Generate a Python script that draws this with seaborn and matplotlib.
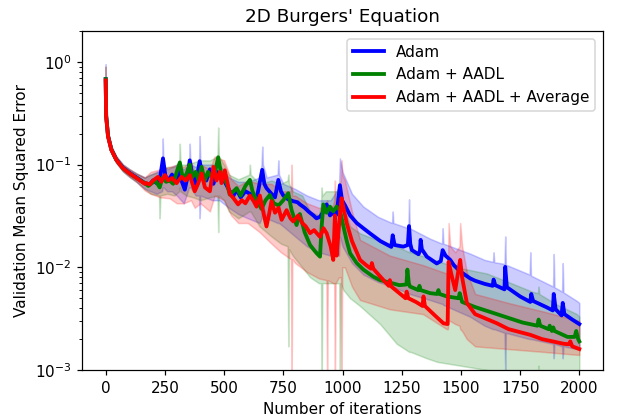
import numpy as np
import matplotlib
matplotlib.use("Agg")
import matplotlib.pyplot as plt
import seaborn as sns

# values (iteration, MSE)
adam_it = [0, 2, 10, 24, 45, 73, 101, 130, 165, 185, 200, 215, 230, 242, 252, 265, 280, 295, 310, 320,
           334, 345, 355, 365, 380, 397, 410, 425, 440, 455, 470, 485, 500, 512, 524, 540, 553, 570, 590, 609,
           625, 640, 661, 670, 679, 700, 715, 729, 740, 750, 770, 792, 810, 820, 840, 856, 877, 890, 905, 920,
           933, 947, 960, 975, 989, 998, 1011, 1032, 1060, 1088, 1116, 1160, 1206, 1212, 1220, 1257, 1276, 1281, 1286, 1293,
           1321, 1327, 1330, 1335, 1356, 1398, 1415, 1423, 1435, 1455, 1470, 1497, 1539, 1560, 1600, 1634, 1638, 1645, 1684, 1687,
           1694, 1750, 1793, 1797, 1805, 1860, 1888, 1892, 1900, 1925, 1930, 1937, 1970, 2000]
adam_mse = [0.68, 0.30, 0.19, 0.14, 0.112, 0.093, 0.083, 0.075, 0.066, 0.064, 0.07, 0.066, 0.075, 0.115, 0.078, 0.07, 0.08, 0.068, 0.085, 0.07,
            0.057, 0.075, 0.11, 0.08, 0.065, 0.108, 0.075, 0.07, 0.09, 0.065, 0.085, 0.075, 0.07, 0.062, 0.055, 0.05, 0.057, 0.048, 0.055, 0.052,
            0.045, 0.05, 0.089, 0.065, 0.059, 0.052, 0.048, 0.071, 0.055, 0.05, 0.046, 0.044, 0.043, 0.041, 0.038, 0.035, 0.032, 0.03, 0.031, 0.035,
            0.041, 0.032, 0.034, 0.0325, 0.063, 0.045, 0.04, 0.032, 0.027, 0.024, 0.0214, 0.018, 0.0158, 0.0205, 0.0165, 0.0159, 0.0165, 0.0252, 0.017, 0.0147,
            0.0134, 0.0145, 0.0185, 0.015, 0.0127, 0.0109, 0.0115, 0.0147, 0.013, 0.0118, 0.0105, 0.0091, 0.0078, 0.0074, 0.0069, 0.0066, 0.0076, 0.0067, 0.0061, 0.0101,
            0.0064, 0.0052, 0.0046, 0.0055, 0.0047, 0.0041, 0.0038, 0.0055, 0.0039, 0.0034, 0.0045, 0.0035, 0.0031, 0.0028]
adam_band_it = [0, 2, 10, 24, 45, 73, 101, 130, 165, 190, 215, 238, 241, 244, 260, 280, 300, 330, 352, 355,
                358, 380, 394, 397, 400, 420, 450, 480, 520, 560, 600, 650, 658, 661, 664, 680, 726, 729, 732, 750,
                800, 850, 900, 950, 985, 989, 1000, 1040, 1088, 1150, 1209, 1212, 1215, 1278, 1281, 1284, 1370, 1420, 1423, 1426,
                1539, 1600, 1635, 1638, 1641, 1684, 1687, 1690, 1790, 1793, 1796, 1889, 1892, 1895, 1927, 1930, 1933, 1990, 2000]
adam_lo = [0.6, 0.27, 0.175, 0.13, 0.104, 0.086, 0.076, 0.068, 0.058, 0.055, 0.052, 0.055, 0.06, 0.06, 0.055, 0.055, 0.05, 0.042, 0.06, 0.06,
           0.06, 0.05, 0.05, 0.03, 0.05, 0.048, 0.045, 0.045, 0.038, 0.033, 0.03, 0.027, 0.03, 0.035, 0.04, 0.03, 0.027, 0.027, 0.027, 0.025,
           0.02, 0.016, 0.014, 0.013, 0.013, 0.02, 0.016, 0.011, 0.0085, 0.0072, 0.0065, 0.0065, 0.0064, 0.0056, 0.0056, 0.0055, 0.0048, 0.0044, 0.0044, 0.0043,
           0.0033, 0.0027, 0.0025, 0.0025, 0.0025, 0.0023, 0.001, 0.0023, 0.002, 0.002, 0.002, 0.0018, 0.0013, 0.0018, 0.0017, 0.0013, 0.0017, 0.0016, 0.0016]
adam_hi = [0.95, 0.33, 0.205, 0.15, 0.12, 0.1, 0.09, 0.082, 0.075, 0.08, 0.085, 0.09, 0.18, 0.1, 0.09, 0.095, 0.1, 0.09, 0.1, 0.16,
           0.1, 0.095, 0.1, 0.19, 0.1, 0.1, 0.1, 0.1, 0.075, 0.068, 0.068, 0.075, 0.1, 0.15, 0.1, 0.075, 0.08, 0.11, 0.08, 0.065,
           0.058, 0.05, 0.045, 0.045, 0.06, 0.115, 0.085, 0.052, 0.039, 0.031, 0.027, 0.035, 0.027, 0.024, 0.046, 0.024, 0.019, 0.017, 0.024, 0.017,
           0.0136, 0.0118, 0.0113, 0.014, 0.0112, 0.0108, 0.02, 0.0106, 0.0085, 0.014, 0.0083, 0.0065, 0.0135, 0.0064, 0.0058, 0.011, 0.0057, 0.0047, 0.0045]

aadl_it = [0, 2, 10, 24, 45, 73, 101, 130, 165, 180, 195, 210, 228, 240, 255, 270, 285, 300, 313, 325,
           340, 355, 365, 380, 392, 405, 418, 432, 447, 460, 475, 488, 500, 512, 524, 540, 553, 570, 590, 609,
           620, 630, 645, 658, 675, 693, 710, 730, 750, 771, 785, 806, 820, 840, 863, 877, 891, 905, 912, 919,
           933, 947, 961, 975, 989, 1004, 1018, 1032, 1060, 1088, 1130, 1159, 1200, 1240, 1270, 1274, 1280, 1285, 1320, 1325,
           1330, 1370, 1400, 1405, 1410, 1441, 1490, 1495, 1505, 1560, 1652, 1760, 1823, 1828, 1835, 1870, 1875, 1884, 1890, 1895,
           1950, 1980, 1987, 1995, 2000]
aadl_mse = [0.68, 0.30, 0.19, 0.14, 0.111, 0.092, 0.082, 0.074, 0.066, 0.062, 0.066, 0.07, 0.06, 0.075, 0.068, 0.07, 0.065, 0.085, 0.105, 0.075,
            0.08, 0.1, 0.075, 0.085, 0.07, 0.095, 0.07, 0.085, 0.075, 0.08, 0.118, 0.08, 0.072, 0.065, 0.051, 0.055, 0.059, 0.05, 0.062, 0.071,
            0.055, 0.0487, 0.042, 0.037, 0.045, 0.0506, 0.042, 0.04, 0.045, 0.0527, 0.036, 0.0258, 0.033, 0.022, 0.0165, 0.015, 0.0137, 0.0127, 0.025, 0.041,
            0.034, 0.039, 0.035, 0.039, 0.036, 0.025, 0.018, 0.0137, 0.011, 0.0095, 0.0081, 0.0075, 0.0071, 0.0067, 0.0068, 0.0095, 0.007, 0.0065, 0.006, 0.0066,
            0.006, 0.0056, 0.0055, 0.006, 0.0055, 0.0052, 0.005, 0.0056, 0.0046, 0.0041, 0.0035, 0.0029, 0.0027, 0.0031, 0.0027, 0.0025, 0.0027, 0.0024, 0.0026, 0.0024,
            0.0021, 0.0021, 0.0024, 0.002, 0.0019]
aadl_band_it = [0, 2, 10, 24, 45, 73, 101, 130, 165, 190, 225, 228, 231, 260, 290, 310, 313, 316, 340, 370,
                400, 440, 472, 475, 478, 500, 520, 560, 606, 609, 612, 650, 700, 740, 768, 771, 774, 790, 830, 863,
                900, 909, 912, 915, 930, 960, 986, 989, 992, 1004, 1032, 1074, 1159, 1229, 1282, 1285, 1288, 1356, 1400, 1500,
                1610, 1700, 1800, 1825, 1828, 1831, 1900, 1990, 2000]
aadl_lo = [0.6, 0.27, 0.175, 0.13, 0.104, 0.086, 0.076, 0.068, 0.058, 0.052, 0.05, 0.03, 0.05, 0.052, 0.05, 0.055, 0.06, 0.055, 0.05, 0.048,
           0.045, 0.048, 0.05, 0.022, 0.05, 0.045, 0.035, 0.03, 0.035, 0.035, 0.035, 0.025, 0.02, 0.017, 0.016, 0.0017, 0.015, 0.013, 0.01, 0.008,
           0.007, 0.007, 0.0006, 0.007, 0.007, 0.007, 0.007, 0.0006, 0.007, 0.006, 0.005, 0.0042, 0.0028, 0.0018, 0.0015, 0.0015, 0.0015, 0.0013, 0.0012, 0.0011,
           0.001, 0.00095, 0.0009, 0.0009, 0.0011, 0.0009, 0.0009, 0.0009, 0.0009]
aadl_hi = [0.9, 0.33, 0.205, 0.15, 0.12, 0.1, 0.09, 0.082, 0.075, 0.08, 0.085, 0.09, 0.085, 0.095, 0.095, 0.1, 0.16, 0.1, 0.1, 0.105,
           0.11, 0.11, 0.12, 0.23, 0.12, 0.1, 0.08, 0.072, 0.08, 0.1, 0.08, 0.065, 0.07, 0.065, 0.07, 0.08, 0.065, 0.055, 0.05, 0.035,
           0.032, 0.04, 0.06, 0.05, 0.055, 0.055, 0.055, 0.06, 0.05, 0.04, 0.025, 0.0214, 0.018, 0.016, 0.014, 0.02, 0.014, 0.0125, 0.0115, 0.0098,
           0.0087, 0.0072, 0.0058, 0.0056, 0.0065, 0.0055, 0.0044, 0.0035, 0.0033]

avg_it = [0, 2, 10, 24, 45, 73, 101, 130, 165, 172, 186, 200, 221, 235, 250, 264, 280, 299, 320, 338,
          355, 376, 390, 405, 419, 440, 455, 468, 482, 489, 503, 524, 540, 559, 575, 590, 609, 625, 637, 651,
          665, 679, 690, 700, 715, 730, 743, 764, 780, 792, 813, 830, 845, 863, 880, 905, 920, 933, 950, 961,
          968, 975, 985, 996, 1004, 1018, 1040, 1074, 1100, 1120, 1124, 1130, 1160, 1195, 1200, 1206, 1240, 1266, 1271, 1278,
          1310, 1338, 1342, 1348, 1390, 1426, 1444, 1448, 1460, 1476, 1490, 1497, 1505, 1525, 1560, 1652, 1701, 1793, 1842, 1934,
          1955, 1962, 1970, 2000]
avg_mse = [0.66, 0.29, 0.187, 0.139, 0.111, 0.092, 0.082, 0.074, 0.065, 0.066, 0.064, 0.07, 0.076, 0.068, 0.079, 0.07, 0.074, 0.066, 0.076, 0.07,
           0.079, 0.055, 0.065, 0.082, 0.06, 0.055, 0.095, 0.07, 0.085, 0.066, 0.088, 0.052, 0.047, 0.041, 0.045, 0.042, 0.05, 0.044, 0.039, 0.05,
           0.035, 0.025, 0.033, 0.044, 0.034, 0.038, 0.029, 0.036, 0.03, 0.028, 0.032, 0.027, 0.025, 0.0215, 0.023, 0.0198, 0.024, 0.0215, 0.016, 0.0118,
           0.032, 0.013, 0.025, 0.047, 0.038, 0.0268, 0.018, 0.0118, 0.0105, 0.0097, 0.011, 0.0097, 0.0081, 0.0066, 0.0075, 0.0065, 0.0056, 0.005, 0.0058, 0.005,
           0.0046, 0.0042, 0.0052, 0.0042, 0.0034, 0.00285, 0.0028, 0.0113, 0.0085, 0.006, 0.0095, 0.0118, 0.008, 0.0045, 0.0035, 0.00285, 0.0025, 0.0022, 0.002, 0.0018,
           0.00178, 0.0019, 0.0017, 0.0016]
avg_band_it = [0, 2, 10, 24, 45, 73, 101, 130, 165, 190, 230, 270, 300, 330, 360, 376, 400, 440, 460, 500,
               530, 560, 600, 650, 700, 740, 782, 785, 788, 800, 850, 900, 932, 935, 938, 960, 965, 968, 971, 985,
               993, 996, 999, 1010, 1040, 1074, 1200, 1340, 1440, 1445, 1448, 1455, 1476, 1494, 1497, 1505, 1525, 1560, 1700, 1850,
               2000]
avg_lo = [0.6, 0.27, 0.175, 0.13, 0.104, 0.086, 0.076, 0.068, 0.056, 0.052, 0.048, 0.047, 0.042, 0.042, 0.045, 0.038, 0.042, 0.035, 0.05, 0.045,
          0.032, 0.027, 0.027, 0.022, 0.017, 0.014, 0.012, 0.0006, 0.012, 0.011, 0.009, 0.0078, 0.0075, 0.0006, 0.0075, 0.007, 0.007, 0.0006, 0.007, 0.008,
          0.008, 0.0006, 0.01, 0.01, 0.0065, 0.0048, 0.0039, 0.0035, 0.0025, 0.0025, 0.003, 0.003, 0.0028, 0.0027, 0.0025, 0.0024, 0.002, 0.0017, 0.0016, 0.0015,
          0.0014]
avg_hi = [0.9, 0.33, 0.205, 0.15, 0.12, 0.1, 0.09, 0.082, 0.075, 0.085, 0.09, 0.095, 0.1, 0.095, 0.11, 0.08, 0.1, 0.09, 0.12, 0.11,
          0.072, 0.062, 0.07, 0.065, 0.065, 0.055, 0.055, 0.1, 0.05, 0.05, 0.042, 0.038, 0.038, 0.045, 0.038, 0.04, 0.045, 0.07, 0.04, 0.06,
          0.07, 0.11, 0.08, 0.07, 0.035, 0.0185, 0.013, 0.0105, 0.0087, 0.009, 0.027, 0.016, 0.014, 0.016, 0.027, 0.016, 0.009, 0.0055, 0.0045, 0.0037,
          0.003]

names = ["Adam", "Adam + AADL", "Adam + AADL + Average"]
colours = ["blue", "green", "red"]

dpi = 110
fig = plt.figure(figsize=(618/dpi, 420/dpi), dpi=dpi)
ax = fig.add_axes([82/618, 1-370/420, (603-82)/618, (370-31)/420])

bands = [(adam_band_it, adam_lo, adam_hi), (aadl_band_it, aadl_lo, aadl_hi), (avg_band_it, avg_lo, avg_hi)]
lines = [(adam_it, adam_mse), (aadl_it, aadl_mse), (avg_it, avg_mse)]

for (bx, lo, hi), c in zip(bands, colours):
    ax.fill_between(bx, lo, hi, color=c, alpha=0.2)

for (x, y), c, n in zip(lines, colours, names):
    sns.lineplot(x=x, y=y, color=c, lw=2.5, label=n, ax=ax)

ax.set_yscale("log")
ax.set_ylim(1e-3, 2.0)
ax.set_xlim(-100, 2100)
ax.set_xticks([0, 250, 500, 750, 1000, 1250, 1500, 1750, 2000])
ax.set_title("2D Burgers' Equation")
ax.set_xlabel("Number of iterations")
ax.set_ylabel("Validation Mean Squared Error")
ax.legend(loc="upper right")

fig.savefig("out.png", dpi=dpi)
